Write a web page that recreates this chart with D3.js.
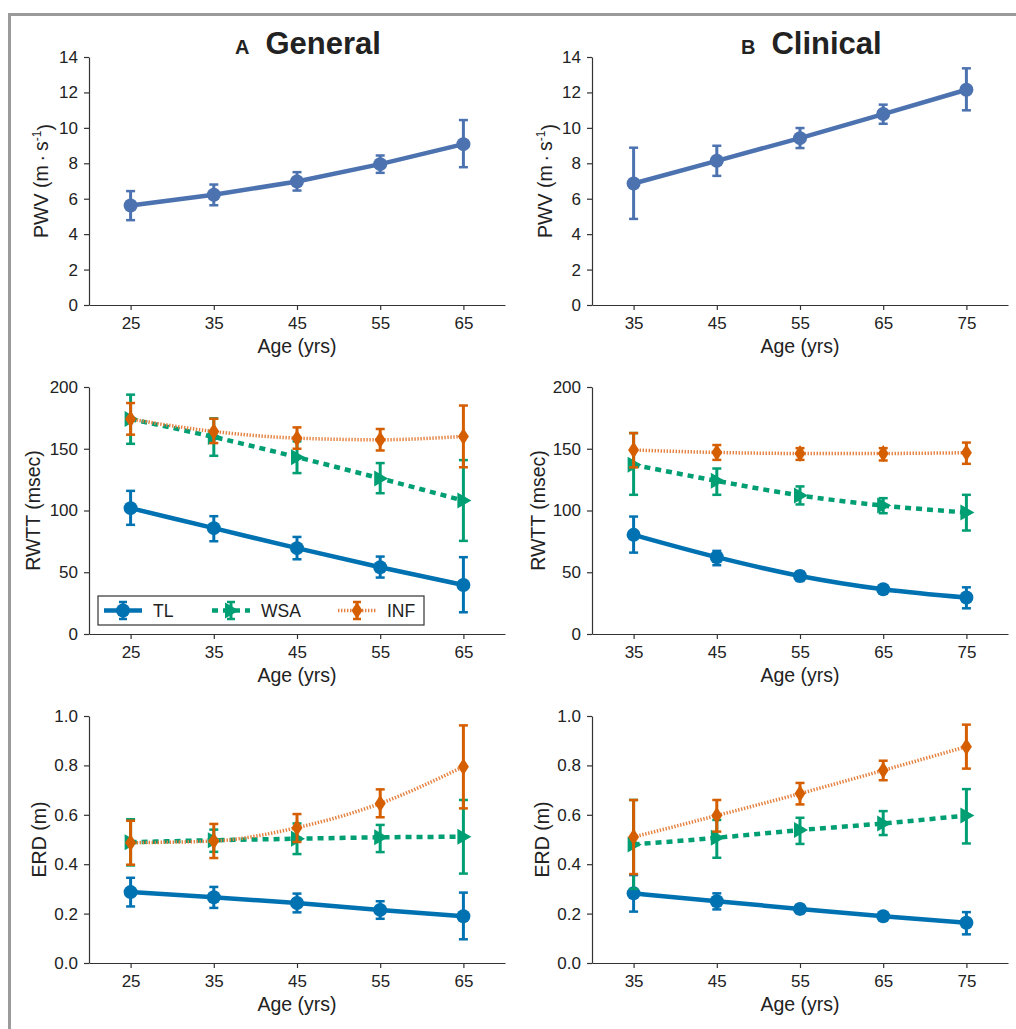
<!DOCTYPE html>
<html>
<head>
<meta charset="utf-8">
<script src="https://cdn.jsdelivr.net/npm/d3@7"></script>
<style>
  body { margin: 0; background: #fff; }
  text { font-family: "Liberation Sans", Arial, sans-serif; fill: #222; }
</style>
</head>
<body>
<div id="plot"></div>
<script>
// Ages on x axis
const ageGeneral = [25, 35, 45, 55, 65];
const ageClinical = [35, 45, 55, 65, 75];

// PWV (m/s): mean, lower, upper
const pwvGen = [5.62, 6.22, 6.97, 7.95, 9.08];
const pwvGenLo = [4.79, 5.63, 6.46, 7.46, 7.78];
const pwvGenHi = [6.43, 6.80, 7.50, 8.44, 10.44];
const pwvCli = [6.86, 8.14, 9.42, 10.78, 12.15];
const pwvCliLo = [4.86, 7.29, 8.86, 10.23, 10.99];
const pwvCliHi = [8.88, 8.99, 9.99, 11.31, 13.36];

// RWTT (msec), general
const rwttGenTL = [101.9, 85.7, 69.5, 54.1, 39.7];
const rwttGenTLLo = [88.4, 75.1, 60.5, 45.7, 17.6];
const rwttGenTLHi = [115.9, 95.4, 78.6, 62.7, 62.2];
const rwttGenWSA = [174, 159.5, 143.2, 126, 108];
const rwttGenWSALo = [154, 144.3, 130.3, 114, 75.4];
const rwttGenWSAHi = [193.8, 174.6, 156, 138.4, 140.8];
const rwttGenINF = [174, 164, 158.6, 157.3, 160];
const rwttGenINFLo = [161.4, 154.6, 150, 148.6, 135];
const rwttGenINFHi = [187, 174.3, 167.3, 166, 185];

// RWTT (msec), clinical
const rwttCliTL = [80.3, 62.2, 47, 36.2, 29.5];
const rwttCliTLLo = [65.9, 55.7, 43, 33, 20.8];
const rwttCliTLHi = [95.1, 67.3, 50.5, 39.2, 37.8];
const rwttCliWSA = [137, 124, 112.2, 104, 98.4];
const rwttCliWSALo = [112.7, 112.7, 104.9, 97.8, 83.8];
const rwttCliWSAHi = [162.7, 134, 119.5, 110, 112.7];
const rwttCliINF = [149, 147, 146.2, 146.2, 146.8];
const rwttCliINFLo = [134.9, 141, 141, 140.5, 137.8];
const rwttCliINFHi = [162.7, 153, 150.5, 150.5, 155];

// ERD (m), general
const erdGenTL = [0.287, 0.266, 0.243, 0.215, 0.189];
const erdGenTLLo = [0.229, 0.223, 0.205, 0.179, 0.096];
const erdGenTLHi = [0.345, 0.308, 0.281, 0.250, 0.285];
const erdGenWSA = [0.489, 0.497, 0.503, 0.509, 0.511];
const erdGenWSALo = [0.395, 0.45, 0.441, 0.449, 0.362];
const erdGenWSAHi = [0.582, 0.54, 0.565, 0.559, 0.66];
const erdGenINF = [0.487, 0.494, 0.548, 0.646, 0.795];
const erdGenINFLo = [0.398, 0.425, 0.49, 0.59, 0.626];
const erdGenINFHi = [0.576, 0.563, 0.603, 0.703, 0.962];

// ERD (m), clinical
const erdCliTL = [0.282, 0.25, 0.219, 0.189, 0.163];
const erdCliTLLo = [0.208, 0.217, 0.201, 0.174, 0.116];
const erdCliTLHi = [0.356, 0.282, 0.235, 0.205, 0.206];
const erdCliWSA = [0.48, 0.507, 0.538, 0.565, 0.597];
const erdCliWSALo = [0.30, 0.426, 0.482, 0.518, 0.484];
const erdCliWSAHi = [0.66, 0.579, 0.588, 0.615, 0.704];
const erdCliINF = [0.51, 0.597, 0.686, 0.78, 0.876];
const erdCliINFLo = [0.36, 0.532, 0.642, 0.74, 0.787];
const erdCliINFHi = [0.66, 0.66, 0.729, 0.819, 0.965];

const seriesNames = ["TL", "WSA", "INF"];

const pwvTicks = [0, 2, 4, 6, 8, 10, 12, 14];
const rwttTicks = [0, 50, 100, 150, 200];
const erdTicks = [0, 0.2, 0.4, 0.6, 0.8, 1.0];

// Styles
const colors = { PWV: "#4c72b0", TL: "#0072b2", WSA: "#009e73", INF: "#d55e00" };

const svg = d3.select("#plot")
  .append("svg")
  .attr("width", 1016)
  .attr("height", 1029);

svg.append("rect").attr("width", 1016).attr("height", 1029).attr("fill", "#fff");

// Figure frame (partially out of view)
svg.append("rect")
  .attr("x", 9.5).attr("y", 14.5)
  .attr("width", 1100).attr("height", 1100)
  .attr("fill", "none")
  .attr("stroke", "#9b9b9b")
  .attr("stroke-width", 3);

// Column titles
function title(x, letter, word) {
  const t = svg.append("text").attr("x", x).attr("y", 54).style("font-weight", "bold");
  t.append("tspan").style("font-size", "20px").text(letter);
  t.append("tspan").attr("dx", 16).style("font-size", "31px").text(word);
}
title(235, "A", "General");
title(741, "B", "Clinical");

const cols = [{ x0: 89, x1: 505 }, { x0: 592, x1: 1008 }];
const rows = [{ y0: 57, y1: 305 }, { y0: 387, y1: 634 }, { y0: 716, y1: 963 }];

function marker(g, type, color, x, y) {
  if (type === "circle" ) {
    g.append("circle").attr("cx", x).attr("cy", y).attr("r", 7).attr("fill", color);
  } else if (type === "tri") {
    g.append("path")
      .attr("d", `M${x - 6},${y - 8}L${x + 8},${y}L${x - 6},${y + 8}Z`)
      .attr("fill", color);
  } else {
    g.append("path")
      .attr("d", `M${x},${y - 8.5}L${x + 5.5},${y}L${x},${y + 8.5}L${x - 5.5},${y}Z`)
      .attr("fill", color);
  }
}

const styles = {
  PWV: { color: colors.PWV, width: 4.5, dash: null, mark: "circle", lineColor: colors.PWV },
  TL: { color: colors.TL, width: 4.5, dash: null, mark: "circle", lineColor: colors.TL },
  WSA: { color: colors.WSA, width: 4.5, dash: "6,5", mark: "tri", lineColor: colors.WSA },
  INF: { color: colors.INF, width: 3.5, dash: "1.4,1.6", mark: "diamond", lineColor: "#e5813f" }
};

function drawPanel(col, row, opts) {
  const c = cols[col], r = rows[row];
  const x = d3.scaleLinear().domain(opts.xDomain).range([c.x0, c.x1]);
  const y = d3.scaleLinear().domain(opts.yDomain).range([r.y1, r.y0]);
  const g = svg.append("g");

  const xAxis = g.append("g")
    .attr("transform", `translate(0,${r.y1})`)
    .call(d3.axisBottom(x).tickValues(opts.ages).tickSize(5).tickPadding(7).tickSizeOuter(0));
  const yAxis = g.append("g")
    .attr("transform", `translate(${c.x0},0)`)
    .call(d3.axisLeft(y).tickValues(opts.yTicks).tickFormat(opts.yFormat).tickSize(5).tickPadding(6).tickSizeOuter(0));
  [xAxis, yAxis].forEach(a => {
    a.selectAll("path, line").attr("stroke", "#333").attr("stroke-width", 1.2);
    a.selectAll("text").style("font-size", "17px").style("font-family", "Liberation Sans, Arial, sans-serif").attr("fill", "#222");
  });

  g.append("text")
    .attr("x", (c.x0 + c.x1) / 2)
    .attr("y", r.y1 + 48)
    .attr("text-anchor", "middle")
    .style("font-size", "19.5px")
    .text("Age (yrs)");

  const yl = g.append("text")
    .attr("transform", `translate(${c.x0 + opts.labelOffset},${(r.y0 + r.y1) / 2}) rotate(-90)`)
    .attr("text-anchor", "middle")
    .attr("dy", "0.35em")
    .style("font-size", "19.5px");
  if (opts.superLabel) {
    yl.append("tspan").text("PWV (m\u2009\u00b7\u2009s");
    yl.append("tspan").attr("dy", "-0.6em").style("font-size", "12px").text("-1");
    yl.append("tspan").attr("dy", "0.6em").text(")");
  } else {
    yl.text(opts.ylabel);
  }

  opts.series.forEach(s => {
    const st = styles[s.name];
    const pts = opts.ages.map((a, i) => ({ a, v: s.mean[i], lo: s.lo[i], hi: s.hi[i] }));
    const line = d3.line().x(d => x(d.a)).y(d => y(d.v))
      .curve(opts.smooth ? d3.curveMonotoneX : d3.curveLinear);
    g.append("path")
      .attr("d", line(pts))
      .attr("fill", "none")
      .attr("stroke", st.lineColor)
      .attr("stroke-width", st.width)
      .attr("stroke-dasharray", st.dash);
    pts.forEach(d => {
      const px = x(d.a);
      g.append("line").attr("x1", px).attr("x2", px).attr("y1", y(d.lo)).attr("y2", y(d.hi))
        .attr("stroke", st.color).attr("stroke-width", 3);
      [d.lo, d.hi].forEach(v => {
        g.append("line").attr("x1", px - 4.5).attr("x2", px + 4.5).attr("y1", y(v)).attr("y2", y(v))
          .attr("stroke", st.color).attr("stroke-width", 2.5);
      });
      marker(g, st.mark, st.color, px, y(d.v));
    });
  });
}

const fmtInt = d3.format("d");
const fmt1 = d3.format(".1f");

drawPanel(0, 0, {
  ages: ageGeneral, xDomain: [20, 70], yDomain: [0, 14], yTicks: pwvTicks, yFormat: fmtInt,
  superLabel: true, labelOffset: -48,
  series: [{ name: "PWV", mean: pwvGen, lo: pwvGenLo, hi: pwvGenHi }]
});
drawPanel(1, 0, {
  ages: ageClinical, xDomain: [30, 80], yDomain: [0, 14], yTicks: pwvTicks, yFormat: fmtInt,
  superLabel: true, labelOffset: -47,
  series: [{ name: "PWV", mean: pwvCli, lo: pwvCliLo, hi: pwvCliHi }]
});
drawPanel(0, 1, {
  ages: ageGeneral, xDomain: [20, 70], yDomain: [0, 200], yTicks: rwttTicks, yFormat: fmtInt,
  ylabel: "RWTT (msec)", labelOffset: -56, smooth: true,
  series: [
    { name: "TL", mean: rwttGenTL, lo: rwttGenTLLo, hi: rwttGenTLHi },
    { name: "WSA", mean: rwttGenWSA, lo: rwttGenWSALo, hi: rwttGenWSAHi },
    { name: "INF", mean: rwttGenINF, lo: rwttGenINFLo, hi: rwttGenINFHi }
  ]
});
drawPanel(1, 1, {
  ages: ageClinical, xDomain: [30, 80], yDomain: [0, 200], yTicks: rwttTicks, yFormat: fmtInt,
  ylabel: "RWTT (msec)", labelOffset: -54, smooth: true,
  series: [
    { name: "TL", mean: rwttCliTL, lo: rwttCliTLLo, hi: rwttCliTLHi },
    { name: "WSA", mean: rwttCliWSA, lo: rwttCliWSALo, hi: rwttCliWSAHi },
    { name: "INF", mean: rwttCliINF, lo: rwttCliINFLo, hi: rwttCliINFHi }
  ]
});
drawPanel(0, 2, {
  ages: ageGeneral, xDomain: [20, 70], yDomain: [0, 1], yTicks: erdTicks, yFormat: fmt1,
  ylabel: "ERD (m)", labelOffset: -50, smooth: true,
  series: [
    { name: "TL", mean: erdGenTL, lo: erdGenTLLo, hi: erdGenTLHi },
    { name: "WSA", mean: erdGenWSA, lo: erdGenWSALo, hi: erdGenWSAHi },
    { name: "INF", mean: erdGenINF, lo: erdGenINFLo, hi: erdGenINFHi }
  ]
});
drawPanel(1, 2, {
  ages: ageClinical, xDomain: [30, 80], yDomain: [0, 1], yTicks: erdTicks, yFormat: fmt1,
  ylabel: "ERD (m)", labelOffset: -50, smooth: true,
  series: [
    { name: "TL", mean: erdCliTL, lo: erdCliTLLo, hi: erdCliTLHi },
    { name: "WSA", mean: erdCliWSA, lo: erdCliWSALo, hi: erdCliWSAHi },
    { name: "INF", mean: erdCliINF, lo: erdCliINFLo, hi: erdCliINFHi }
  ]
});

// Legend in the general RWTT panel
const legend = svg.append("g").attr("transform", "translate(98,596)");
legend.append("rect").attr("width", 326).attr("height", 29)
  .attr("fill", "#fff").attr("stroke", "#333").attr("stroke-width", 1.2);
const legendX = [6, 114, 240];
seriesNames.forEach((name, i) => {
  const st = styles[name];
  const lx = legendX[i];
  legend.append("line").attr("x1", lx).attr("x2", lx + 38).attr("y1", 14.5).attr("y2", 14.5)
    .attr("stroke", st.lineColor).attr("stroke-width", st.width).attr("stroke-dasharray", st.dash);
  legend.append("line").attr("x1", lx + 19).attr("x2", lx + 19).attr("y1", 6).attr("y2", 23)
    .attr("stroke", st.color).attr("stroke-width", 3);
  [6, 23].forEach(v => legend.append("line").attr("x1", lx + 15).attr("x2", lx + 23)
    .attr("y1", v).attr("y2", v).attr("stroke", st.color).attr("stroke-width", 2.5));
  marker(legend, st.mark, st.color, lx + 19, 14.5);
  legend.append("text").attr("x", lx + 49).attr("y", 21).style("font-size", "17.5px").text(name);
});
</script>
</body>
</html>
